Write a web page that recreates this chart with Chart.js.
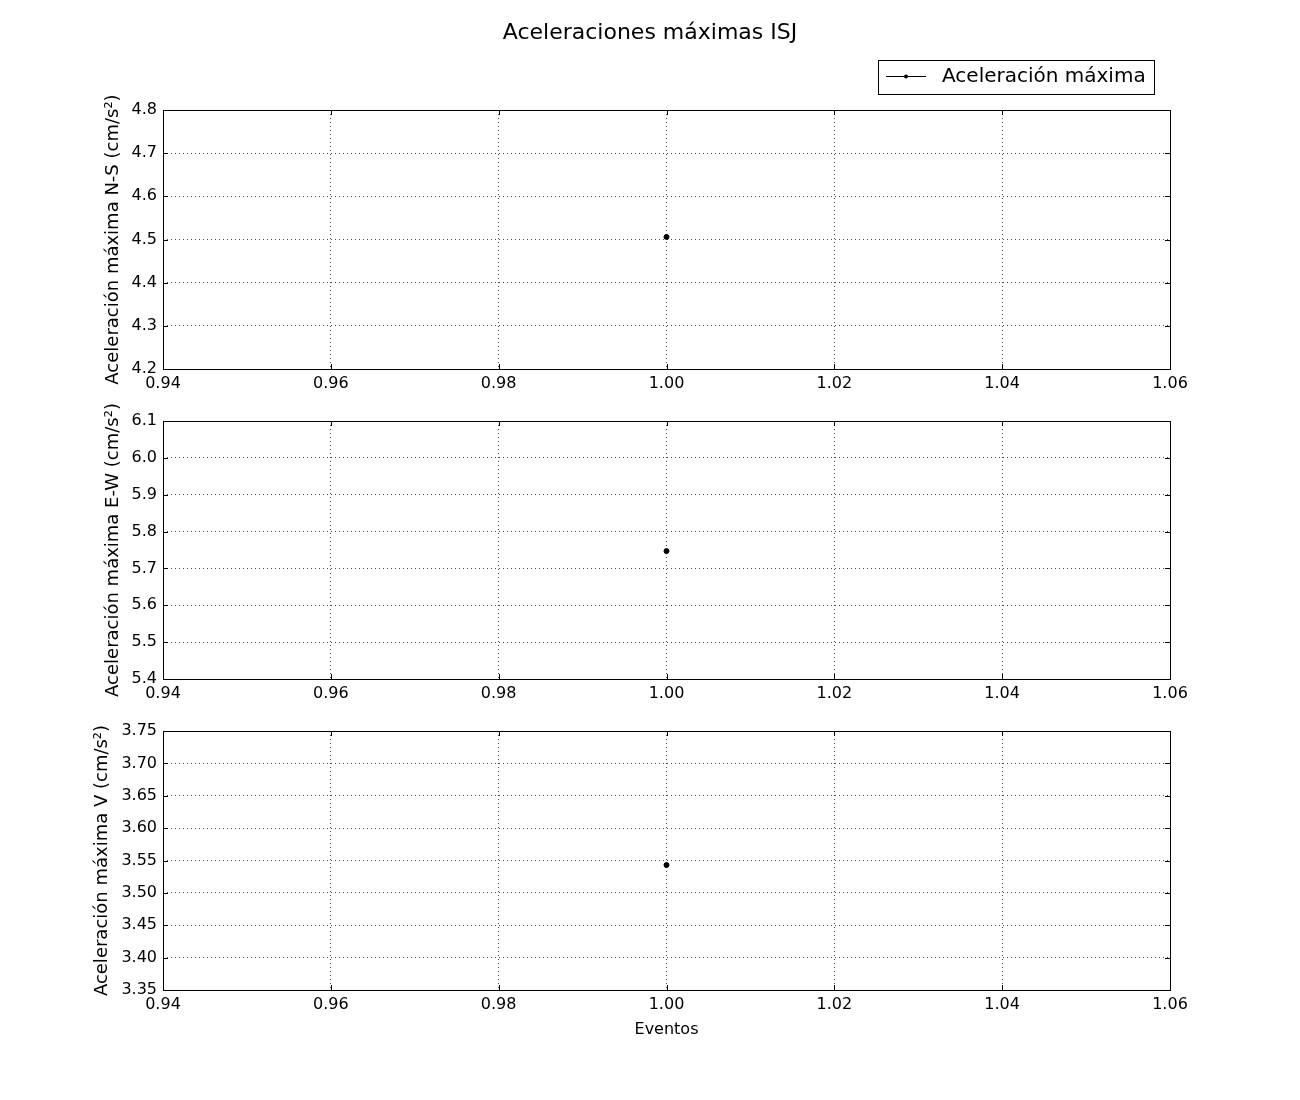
<!DOCTYPE html>
<html>
<head>
<meta charset="utf-8">
<script src="https://cdn.jsdelivr.net/npm/chart.js@4.4.1/dist/chart.umd.min.js"></script>
<style>
  body { margin: 0; background: #fff; }
  #wrap { position: relative; width: 1300px; height: 1100px; }
  .box { position: absolute; left: 0; width: 1300px; }
</style>
</head>
<body>
<div id="wrap">
  <div class="box" style="top:0;height:400px"><canvas id="chartNS"></canvas></div>
  <div class="box" style="top:400px;height:310px"><canvas id="chartEW"></canvas></div>
  <div class="box" style="top:710px;height:333px"><canvas id="chartV"></canvas></div>
</div>
<script>
// event numbers and peak accelerations per component
const eventos = [1];
const aceleracionNS = [4.506];
const aceleracionEW = [5.747];
const aceleracionV = [3.543];

const xTicks = [0.94, 0.96, 0.98, 1.00, 1.02, 1.04, 1.06];
const nsTicks = [4.2, 4.8, 0.1];
const ewTicks = [5.4, 6.1, 0.1];
const vTicks = [3.35, 3.75, 0.05];

const chartTitle = 'Aceleraciones máximas ISJ';
const legendLabel = 'Aceleración máxima';
const xLabel = 'Eventos';

const FONT = 'DejaVu Sans';
Chart.defaults.font.family = FONT;
Chart.defaults.color = '#000';

// frame + inward ticks on all four sides, like the matplotlib classic look
const framePlugin = {
  id: 'frame',
  afterDraw(chart) {
    const { ctx, chartArea: a, scales } = chart;
    ctx.save();
    ctx.strokeStyle = '#000';
    ctx.lineWidth = 1;
    ctx.beginPath();
    scales.x.ticks.forEach((t, i) => {
      const px = Math.round(scales.x.getPixelForTick(i)) + 0.5;
      ctx.moveTo(px, a.bottom); ctx.lineTo(px, a.bottom - 5);
      ctx.moveTo(px, a.top); ctx.lineTo(px, a.top + 5);
    });
    scales.y.ticks.forEach((t, i) => {
      const py = Math.round(scales.y.getPixelForTick(i)) + 0.5;
      ctx.moveTo(a.left, py); ctx.lineTo(a.left + 5, py);
      ctx.moveTo(a.right, py); ctx.lineTo(a.right - 5, py);
    });
    ctx.stroke();
    ctx.strokeRect(Math.round(a.left) + 0.5, Math.round(a.top) + 0.5,
      Math.round(a.right - a.left), Math.round(a.bottom - a.top));
    ctx.restore();
  }
};

// title and legend box drawn on the first panel
const headerPlugin = {
  id: 'header',
  afterDraw(chart, args, opts) {
    if (!opts.show) return;
    const ctx = chart.ctx;
    ctx.save();
    ctx.fillStyle = '#000';
    ctx.textBaseline = 'middle';
    ctx.textAlign = 'center';
    ctx.font = '22px "' + FONT + '"';
    ctx.fillText(chartTitle, 650, 33);
    ctx.strokeStyle = '#000';
    ctx.lineWidth = 1;
    ctx.strokeRect(878.5, 60.5, 276, 34);
    ctx.beginPath();
    ctx.moveTo(886, 76.5); ctx.lineTo(926, 76.5);
    ctx.stroke();
    ctx.beginPath();
    ctx.arc(906, 76.5, 2, 0, Math.PI * 2);
    ctx.fill();
    ctx.textAlign = 'left';
    ctx.font = '20px "' + FONT + '"';
    ctx.fillText(legendLabel, 942, 77);
    ctx.restore();
  }
};

function makePanel(id, values, yRange, yLabel, decimals, padTop, padLeft, xHeight, showXLabel, header) {
  return new Chart(document.getElementById(id), {
    type: 'scatter',
    data: {
      datasets: [{
        label: legendLabel,
        data: eventos.map((e, i) => ({ x: e, y: values[i] })),
        borderColor: '#000',
        backgroundColor: '#000',
        pointRadius: 2.5,
        pointHoverRadius: 2.5,
        showLine: true,
        borderWidth: 1
      }]
    },
    options: {
      responsive: true,
      maintainAspectRatio: false,
      animation: false,
      layout: { padding: { left: padLeft, right: 130, top: padTop, bottom: 0 } },
      plugins: {
        legend: { display: false },
        tooltip: { enabled: false },
        header: { show: header }
      },
      scales: {
        x: {
          type: 'linear',
          min: xTicks[0],
          max: xTicks[xTicks.length - 1],
          afterBuildTicks: s => { s.ticks = xTicks.map(v => ({ value: v })); },
          afterFit: s => { s.height = xHeight; },
          border: { display: false, dash: [1, 3] },
          grid: { color: 'rgba(0,0,0,0.7)', lineWidth: 1, drawTicks: false },
          ticks: { padding: 5, font: { size: 16 }, callback: v => v.toFixed(2) },
          title: { display: showXLabel, text: xLabel, font: { size: 16 }, padding: { top: 4, bottom: 4 } }
        },
        y: {
          min: yRange[0],
          max: yRange[1],
          afterFit: s => { s.width = 163 - padLeft; },
          border: { display: false, dash: [1, 3] },
          grid: { color: 'rgba(0,0,0,0.7)', lineWidth: 1, drawTicks: false },
          ticks: { stepSize: yRange[2], padding: 6, font: { size: 16 }, callback: v => v.toFixed(decimals) },
          title: { display: true, text: yLabel, font: { size: 18 }, padding: { top: 4, bottom: 4 } }
        }
      }
    },
    plugins: [framePlugin, headerPlugin]
  });
}

makePanel('chartNS', aceleracionNS, nsTicks, 'Aceleración máxima N-S (cm/s²)', 1, 110, 99, 31, false, true);
makePanel('chartEW', aceleracionEW, ewTicks, 'Aceleración máxima E-W (cm/s²)', 1, 21, 99, 31, false, false);
makePanel('chartV', aceleracionV, vTicks, 'Aceleración máxima V (cm/s²)', 2, 21, 88, 53, true, false);
</script>
</body>
</html>
